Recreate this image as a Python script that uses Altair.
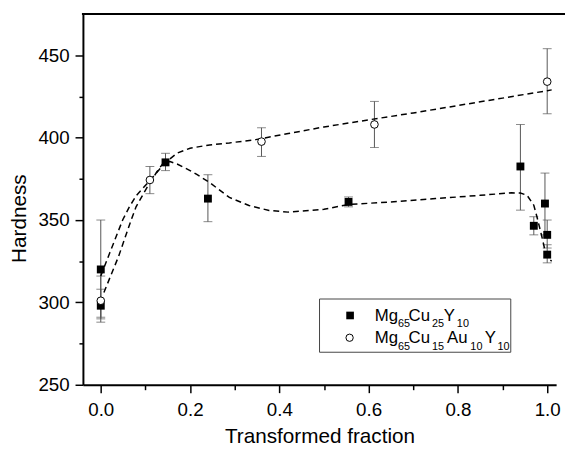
import altair as alt
import pandas as pd

# ---------------- data ----------------
# Mg65Cu25Y10 (filled squares)
sq_x = [0.0, 0.0, 0.145, 0.24, 0.555, 0.94, 0.97, 0.995, 1.0, 1.0]
sq_y = [320, 298, 385, 363, 361, 382.5, 346.5, 360, 341, 329]
sq_lo = [291, 288, 380, 349, 358, 356, 341, 341, 333, 324]
sq_hi = [350, 308, 390.5, 377.5, 364, 408, 352, 378.5, 350, 335]

# Mg65Cu15Au10Y10 (open circles)
ci_x = [0.0, 0.11, 0.36, 0.613, 1.0]
ci_y = [301, 374.3, 397.6, 408, 434]
ci_lo = [290, 366, 388.6, 394, 414.5]
ci_hi = [316, 382.5, 406, 422, 454]

# dashed guide curves
fit_ci_x = [0.0, 0.02, 0.049, 0.064, 0.08, 0.11, 0.134, 0.15, 0.171, 0.2, 0.244,
            0.288, 0.347, 0.42, 0.5, 0.6, 0.7, 0.8, 0.9, 1.0, 1.01]
fit_ci_y = [316, 330, 350, 358, 365, 374, 381.5, 386, 390.6, 393.6, 395.6,
            396.8, 398.8, 402.5, 406.5, 410.8, 415, 419.5, 424, 428.5, 429]
fit_sq_x = [0.007, 0.04, 0.068, 0.079, 0.104, 0.125, 0.141, 0.155, 0.171, 0.2,
            0.215, 0.244, 0.288, 0.332, 0.377, 0.42, 0.5, 0.555, 0.65, 0.75,
            0.85, 0.92, 0.94, 0.955, 0.97, 0.977, 0.988, 0.998, 1.01]
fit_sq_y = [306, 328, 350, 358, 370, 379, 385, 385.5, 384, 380,
            377.7, 372.7, 363.7, 358.8, 355.8, 354.8, 356.5, 359.4, 361, 363,
            365, 366.5, 366.4, 365, 359, 352, 340, 328, 325]

x_ticks = [0.0, 0.1, 0.2, 0.3, 0.4, 0.5, 0.6, 0.7, 0.8, 0.9, 1.0]
y_ticks = [250, 275, 300, 325, 350, 375, 400, 425, 450]

legend_rows = [
    [("Mg", "65"), ("Cu", "25"), ("Y", "10")],
    [("Mg", "65"), ("Cu", "15"), ("Au", "10"), ("Y", "10")],
]

x_title = "Transformed fraction"
y_title = "Hardness"

# ---------------- chart ----------------
W, H = 480, 376
PAD_R = 9
FONT = "Liberation Sans"

sq = pd.DataFrame({"x": sq_x, "y": sq_y, "lo": sq_lo, "hi": sq_hi})
ci = pd.DataFrame({"x": ci_x, "y": ci_y, "lo": ci_lo, "hi": ci_hi})
fci = pd.DataFrame({"x": fit_ci_x, "y": fit_ci_y})
fsq = pd.DataFrame({"x": fit_sq_x, "y": fit_sq_y})

xs = alt.Scale(domain=[-0.04, 1.02], nice=False, zero=False)
ys = alt.Scale(domain=[250, 475], nice=False, zero=False)

xaxis = alt.Axis(
    values=x_ticks, format=".1f",
    labelExpr="round(datum.value*10) % 2 == 0 ? datum.label : ''",
    tickSize={"condition": {"test": "round(datum.value*10) % 2 == 0", "value": 8}, "value": 5},
    tickColor="black", tickWidth=1.5, domainColor="black", domainWidth=2,
    labelFontSize=19, labelColor="black", labelPadding=8, labelOverlap=False,
    labelFlush=False, grid=False,
    title=x_title, titleFontSize=21, titleFontWeight="normal", titleColor="black",
    titleBaseline="alphabetic", titleY=59,
)
yaxis = alt.Axis(
    values=y_ticks,
    labelExpr="datum.value % 50 == 0 ? datum.label : ''",
    tickSize={"condition": {"test": "datum.value % 50 == 0", "value": 8}, "value": 4},
    tickColor="black", tickWidth=1.5, domainColor="black", domainWidth=2,
    labelFontSize=19, labelColor="black", labelPadding=6, labelOverlap=False,
    labelFlush=False, grid=False,
    title=y_title, titleFontSize=21, titleFontWeight="normal", titleColor="black",
    titleAngle=270, titleBaseline="alphabetic", titleAlign="center",
    titleX=-58, titleY=207,
)

X = alt.X("x:Q", scale=xs, axis=xaxis)
Y = alt.Y("y:Q", scale=ys, axis=yaxis)
EBAR = "#555555"


def errbars(df):
    rule = alt.Chart(df).mark_rule(color=EBAR, strokeWidth=1).encode(
        x=X, y=alt.Y("lo:Q", scale=ys, axis=yaxis), y2="hi:Q")
    cap_lo = alt.Chart(df).mark_tick(color=EBAR, orient="horizontal", size=9, thickness=1).encode(
        x=X, y=alt.Y("lo:Q", scale=ys, axis=yaxis))
    cap_hi = alt.Chart(df).mark_tick(color=EBAR, orient="horizontal", size=9, thickness=1).encode(
        x=X, y=alt.Y("hi:Q", scale=ys, axis=yaxis))
    return [rule, cap_lo, cap_hi]


fit1 = alt.Chart(fci).mark_line(color="black", strokeWidth=1.5, strokeDash=[6, 4]).encode(
    x=X, y=Y, order=alt.Order("x:Q"))
fit2 = alt.Chart(fsq).mark_line(color="black", strokeWidth=1.5, strokeDash=[6, 4]).encode(
    x=X, y=Y, order=alt.Order("x:Q"))

pts_sq = alt.Chart(sq).mark_point(shape="square", filled=True, color="black", size=64, opacity=1).encode(x=X, y=Y)
pts_ci = alt.Chart(ci).mark_point(shape="circle", filled=True, fill="white", stroke="black",
                                  strokeWidth=1, size=60, opacity=1).encode(x=X, y=Y)

one = pd.DataFrame({"k": [0]})
top_rule = alt.Chart(one).mark_rule(color="black", strokeWidth=2).encode(
    x=alt.value(-1), x2=alt.value(W + PAD_R), y=alt.value(0))

# ---- legend (drawn by hand so the subscripts can be kept) ----
leg_box = alt.Chart(one).mark_rect(fill="white", stroke="#444444", strokeWidth=1).encode(
    x=alt.value(240), x2=alt.value(434), y=alt.value(289), y2=alt.value(343))
leg_sq = alt.Chart(one).mark_point(shape="square", filled=True, color="black", size=60, opacity=1).encode(
    x=alt.value(271), y=alt.value(305.7))
leg_ci = alt.Chart(one).mark_point(shape="circle", filled=True, fill="white", stroke="black",
                                   strokeWidth=1, size=55, opacity=1).encode(
    x=alt.value(270.5), y=alt.value(328.3))

row_pos = [
    {"base": 311.7, "sub": 317.6, "xs": [296, 319.5, 330.3, 354, 366, 379.3]},
    {"base": 334.0, "sub": 340.5, "xs": [296, 319.5, 330.3, 354, 369.3, 393, 407.7, 420.5]},
]
leg_text = []
for parts, pos in zip(legend_rows, row_pos):
    i = 0
    for main, sub in parts:
        leg_text.append(alt.Chart(one).mark_text(
            text=main, font=FONT, fontSize=17, align="left", baseline="alphabetic", color="black"
        ).encode(x=alt.value(pos["xs"][i]), y=alt.value(pos["base"])))
        i += 1
        leg_text.append(alt.Chart(one).mark_text(
            text=sub, font=FONT, fontSize=11, align="left", baseline="alphabetic", color="black"
        ).encode(x=alt.value(pos["xs"][i]), y=alt.value(pos["sub"])))
        i += 1

layers = (errbars(sq) + errbars(ci) + [fit1, fit2, pts_sq, pts_ci, top_rule,
                                        leg_box, leg_sq, leg_ci] + leg_text)

chart = alt.layer(*layers).properties(
    width=W, height=H,
    autosize=alt.AutoSizeParams(type="none"),
    padding={"left": 76, "top": 3, "right": PAD_R, "bottom": 64},
).configure(font=FONT).configure_view(stroke=None)

chart.save("out.html", embed_options={"renderer": "svg", "actions": False})
